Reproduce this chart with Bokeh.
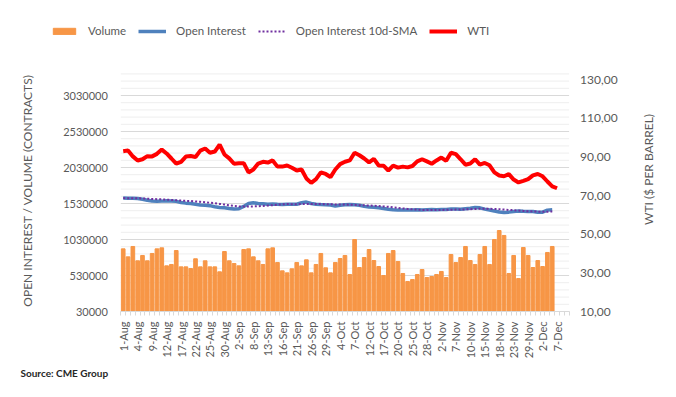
import math
from bokeh.plotting import figure
from bokeh.models import (Range1d, LinearAxis, FixedTicker, NumeralTickFormatter,
                          Legend, LegendItem, Label)
from bokeh.embed import file_html
from bokeh.resources import INLINE

# ---- data (trading days 1-Aug .. 9-Dec; labels every third day) ----
tick_labels = ["1-Aug", "4-Aug", "9-Aug", "12-Aug", "17-Aug", "22-Aug", "25-Aug", "30-Aug",
               "2-Sep", "8-Sep", "13-Sep", "16-Sep", "21-Sep", "26-Sep", "29-Sep",
               "4-Oct", "7-Oct", "12-Oct", "17-Oct", "20-Oct", "25-Oct", "28-Oct",
               "2-Nov", "7-Nov", "10-Nov", "15-Nov", "18-Nov", "23-Nov", "29-Nov",
               "2-Dec", "7-Dec"]
n_categories = 93

volume = [900000, 789000, 933000, 734000, 808000, 734000, 836000, 900000, 914000, 664000,
          683000, 877000, 650000, 650000, 627000, 762000, 650000, 734000, 650000, 650000,
          581000, 863000, 734000, 697000, 664000, 891000, 900000, 789000, 734000, 683000,
          900000, 914000, 711000, 595000, 567000, 623000, 711000, 664000, 748000, 567000,
          683000, 836000, 637000, 567000, 711000, 766000, 808000, 544000, 1030000, 641000,
          780000, 891000, 738000, 655000, 530000, 836000, 877000, 725000, 558000, 447000,
          474000, 544000, 613000, 502000, 516000, 544000, 586000, 502000, 822000, 711000,
          780000, 933000, 738000, 683000, 822000, 933000, 683000, 1030000, 1155000, 1086000,
          558000, 808000, 488000, 919000, 808000, 641000, 738000, 655000, 850000, 933000]

open_interest = [1605000, 1603000, 1604000, 1600000, 1590000, 1575000, 1565000, 1562000, 1563000, 1568000,
                 1565000, 1560000, 1545000, 1535000, 1530000, 1520000, 1510000, 1505000, 1500000, 1485000,
                 1475000, 1470000, 1462000, 1455000, 1458000, 1490000, 1530000, 1540000, 1530000, 1525000,
                 1520000, 1522000, 1518000, 1515000, 1520000, 1518000, 1520000, 1540000, 1550000, 1530000,
                 1520000, 1515000, 1512000, 1510000, 1495000, 1505000, 1512000, 1515000, 1512000, 1505000,
                 1490000, 1480000, 1478000, 1470000, 1460000, 1450000, 1442000, 1438000, 1440000, 1438000,
                 1440000, 1442000, 1440000, 1443000, 1445000, 1442000, 1445000, 1448000, 1452000, 1455000,
                 1450000, 1458000, 1465000, 1475000, 1470000, 1452000, 1440000, 1425000, 1412000, 1405000,
                 1410000, 1420000, 1425000, 1422000, 1420000, 1418000, 1408000, 1410000, 1438000, 1442000]

oi_sma10 = [1605000, 1604000, 1604000, 1603000, 1600000, 1597000, 1593000, 1590000, 1587000, 1584000,
            1580000, 1576000, 1571000, 1567000, 1564000, 1559000, 1553000, 1547000, 1541000, 1533000,
            1524000, 1515000, 1505000, 1497000, 1490000, 1487000, 1487000, 1490000, 1493000, 1496000,
            1501000, 1507000, 1513000, 1519000, 1522000, 1521000, 1520000, 1522000, 1524000, 1524000,
            1523000, 1522000, 1521000, 1520000, 1517000, 1516000, 1515000, 1514000, 1511000, 1507000,
            1505000, 1502000, 1499000, 1495000, 1490000, 1484000, 1477000, 1469000, 1462000, 1455000,
            1449000, 1445000, 1441000, 1441000, 1441000, 1441000, 1441000, 1442000, 1443000, 1445000,
            1446000, 1448000, 1451000, 1454000, 1456000, 1457000, 1456000, 1454000, 1450000, 1446000,
            1441000, 1437000, 1432000, 1427000, 1422000, 1420000, 1417000, 1416000, 1416000, 1419000]

wti = [93.0, 93.4, 90.3, 88.2, 88.8, 90.4, 90.3, 91.6, 93.8, 91.8,
       89.2, 86.5, 87.5, 90.2, 90.5, 90.0, 93.3, 94.4, 92.2, 92.8,
       96.4, 91.3, 89.3,
       86.5, 86.8, 86.8, 82.0, 83.5, 86.6, 87.5, 87.1, 88.2, 85.0,
       85.0, 85.6, 84.4, 83.0, 83.5, 78.9, 76.6, 78.5, 82.0, 81.2, 79.6,
       83.5, 86.3, 87.5, 88.2, 92.2, 90.9, 89.2, 87.2, 89.0, 85.6,
       85.5, 83.0, 85.5, 84.5, 85.0, 84.6, 85.3, 87.7, 88.8, 87.7, 86.5,
       88.2, 89.7, 88.0, 92.2, 91.5, 88.8, 86.0, 86.6, 88.8, 86.0,
       86.9, 85.7, 82.0, 80.4, 80.0, 81.1, 78.3, 76.8, 77.6, 78.5, 80.5,
       81.2, 80.0, 77.3, 74.8, 73.8]

left_min, left_max = 30000, 3330000
left_ticks = [30000, 530000, 1030000, 1530000, 2030000, 2530000, 3030000]
left_minor_step = 100000
right_min, right_max = 10, 133
right_ticks = [10, 30, 50, 70, 90, 110, 130]

FONT = "Lato"
GREY = "#595959"
ORANGE, BLUE, PURPLE, RED = "#F79646", "#4F81BD", "#7030A0", "#FF0000"

# ---- layout geometry (pixels) ----
W, H = 670, 390
FL, FR, FT, FB = 120.3, 568.6, 73.4, 311.0   # plot-area edges
ppx = (FR - FL) / n_categories
x_start = -0.5 - FL / ppx
x_end = n_categories - 0.5 + (W - FR) / ppx
ppy = (FB - FT) / (left_max - left_min)
y_start = left_min - (H - FB) / ppy
y_end = left_max + FT / ppy
ppr = (FB - FT) / (right_max - right_min)
r_start = right_min - (H - FB) / ppr
r_end = right_max + FT / ppr

p = figure(width=W, height=H, output_backend="svg", toolbar_location=None,
           x_range=Range1d(x_start, x_end), y_range=Range1d(y_start, y_end), min_border=0)
p.outline_line_color = None
p.xgrid.visible = False
p.ygrid.visible = False
p.extra_y_ranges = {"wti": Range1d(r_start, r_end)}

# x axis
xa = p.xaxis[0]
xa.fixed_location = left_min
xa.bounds = (-0.5, n_categories - 0.5)
xa.ticker = FixedTicker(ticks=[3 * i for i in range(len(tick_labels))],
                        minor_ticks=[i - 0.5 for i in range(n_categories + 1)])
xa.major_label_overrides = {3 * i: lab for i, lab in enumerate(tick_labels)}
xa.major_label_orientation = math.pi / 2
xa.major_label_text_font = FONT
xa.major_label_text_font_size = "11px"
xa.major_label_text_color = GREY
xa.major_label_standoff = 6
xa.major_tick_out = 0
xa.major_tick_in = 0
xa.minor_tick_out = 4
xa.minor_tick_in = 0
xa.minor_tick_line_color = "#d9d9d9"
xa.axis_line_color = "#d9d9d9"

# left axis
ya = p.yaxis[0]
ya.fixed_location = -0.5
ya.bounds = (left_min, left_max)
ya.ticker = FixedTicker(ticks=left_ticks)
ya.formatter = NumeralTickFormatter(format="0")
ya.major_label_text_font = FONT
ya.major_label_text_font_size = "11px"
ya.major_label_text_color = GREY
ya.major_label_standoff = 13
ya.major_tick_out = 0
ya.major_tick_in = 0
ya.minor_tick_out = 0
ya.minor_tick_in = 0
ya.axis_line_color = None

# right axis
ra = LinearAxis(y_range_name="wti", ticker=FixedTicker(ticks=right_ticks),
                fixed_location=n_categories - 0.5, bounds=(right_min, right_max))
ra.major_label_overrides = {t: f"{t},00" for t in right_ticks}
ra.major_label_text_font = FONT
ra.major_label_text_font_size = "12px"
ra.major_label_text_color = GREY
ra.major_label_standoff = 11
ra.major_tick_out = 0
ra.major_tick_in = 0
ra.minor_tick_out = 0
ra.minor_tick_in = 0
ra.axis_line_color = None
p.add_layout(ra, "right")

# horizontal gridlines (minor then major), spanning the plot area only
minor_vals = [v for v in range(left_min, left_max + 1, left_minor_step) if v not in left_ticks]
p.segment(x0=-0.5, x1=n_categories - 0.5, y0=minor_vals, y1=minor_vals,
          line_color="#eeeeee", line_width=1)
p.segment(x0=-0.5, x1=n_categories - 0.5, y0=left_ticks[1:], y1=left_ticks[1:],
          line_color="#d9d9d9", line_width=1)

xs = list(range(len(volume)))
r_vol = p.vbar(x=xs, top=volume, bottom=left_min, width=0.76, color=ORANGE)
r_oi = p.line(x=xs, y=open_interest, line_color=BLUE, line_width=3.5)
r_sma = p.line(x=list(range(len(oi_sma10))), y=oi_sma10, line_color=PURPLE,
               line_width=2, line_dash="2 2")
r_wti = p.line(x=list(range(len(wti))), y=wti, y_range_name="wti",
               line_color=RED, line_width=4)

legend = Legend(items=[LegendItem(label="Volume", renderers=[r_vol]),
                       LegendItem(label="Open Interest", renderers=[r_oi]),
                       LegendItem(label="Open Interest 10d-SMA", renderers=[r_sma]),
                       LegendItem(label="WTI", renderers=[r_wti])],
                orientation="horizontal", location=(50, H - 37),
                glyph_width=28, glyph_height=8, label_standoff=10, spacing=12,
                padding=2, margin=0, border_line_color=None, background_fill_alpha=0,
                label_text_font=FONT, label_text_font_size="11.5px", label_text_color=GREY)
p.add_layout(legend, "center")

p.add_layout(Label(x=27, y=H - 190, x_units="screen", y_units="screen",
                   text="OPEN INTEREST / VOLUME (CONTRACTS)", angle=math.pi / 2,
                   text_align="center", text_baseline="middle", text_font=FONT,
                   text_font_size="12px", text_color=GREY))
p.add_layout(Label(x=648, y=H - 169, x_units="screen", y_units="screen",
                   text="WTI ($ PER BARREL)", angle=math.pi / 2,
                   text_align="center", text_baseline="middle", text_font=FONT,
                   text_font_size="12px", text_color=GREY))
p.add_layout(Label(x=20, y=H - 372, x_units="screen", y_units="screen",
                   text="Source: CME Group", text_align="left", text_baseline="middle",
                   text_font=FONT, text_font_size="10px", text_font_style="bold",
                   text_color="#262626"))

open("out.html", "w").write(file_html(p, INLINE))
